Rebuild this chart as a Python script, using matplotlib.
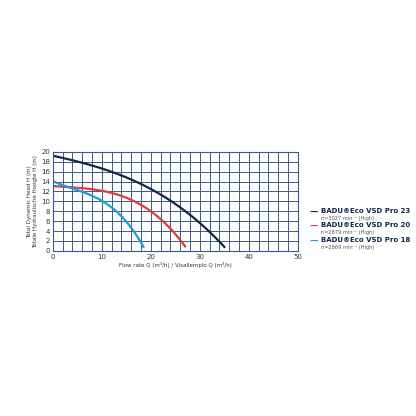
import matplotlib
matplotlib.use("Agg")
import matplotlib.pyplot as plt
import numpy as np

q23 = [0, 5, 10, 15, 20, 25, 30, 35]
h23 = [19, 18.5, 16.6, 14.6, 12.3, 9.5, 6, 0.6]
q20 = [0, 3, 8, 12, 16, 20, 24, 27]
h20 = [12.9, 13.2, 12.5, 11.6, 10, 8, 5, 0.6]
q18 = [0, 4, 8, 12, 15, 17, 18.5]
h18 = [14, 12.8, 11, 8.6, 6, 3.5, 0.6]
names = ["BADU\u00aeEco VSD Pro 23", "BADU\u00aeEco VSD Pro 20", "BADU\u00aeEco VSD Pro 18"]
subs = ["n=3027 min\u207b\u00b9 (High)", "n=2879 min\u207b\u00b9 (High)", "n=2869 min\u207b\u00b9 (High)"]
colors = ["#12264a", "#e33a3a", "#1e9be0"]

def smooth(q, h):
    x = np.linspace(q[0], q[-1], 100)
    c = np.polyfit(q, h, 3)
    return x, np.polyval(c, x)

fig = plt.figure(figsize=(4.16, 4.16), dpi=100)
ax = fig.add_axes([0.127, 0.397, 0.589, 0.238])
for q, h, col in zip([q23, q20, q18], [h23, h20, h18], colors):
    x, y = smooth(q, h)
    ax.plot(x, y, color=col, lw=1.6)
ax.set_xlim(0, 50)
ax.set_ylim(0, 20)
ax.set_xticks(np.arange(0, 51, 10))
ax.set_xticks(np.arange(0, 51, 2), minor=True)
ax.set_yticks(np.arange(0, 21, 2))
ax.grid(which="both", color="#3d5a80", lw=0.7)
for s in ax.spines.values():
    s.set_color("#3d5a80")
ax.tick_params(which="both", length=0, labelsize=5, colors="#333333", pad=2)
ax.set_xlabel("Flow rate Q (m\u00b3/h) / Visallemplo Q (m\u00b3/h)", fontsize=4, color="#333333", labelpad=2)
ax.set_ylabel("Total Dynamic Head H (m)\nTotale Hydraulische Hoogte H (m)", fontsize=4, color="#333333", labelpad=2)

ys = [0.49, 0.455, 0.42]
for y, n, s, col in zip(ys, names, subs, colors):
    fig.text(0.745, y, "\u2014", color=col, fontsize=6, va="center", fontweight="bold")
    fig.text(0.772, y + 0.003, n, fontsize=5, fontweight="bold", color="#12264a", va="center")
    fig.text(0.772, y - 0.015, s, fontsize=3.6, color="#555555", va="center")
fig.savefig("out.png", dpi=100, facecolor="white")
